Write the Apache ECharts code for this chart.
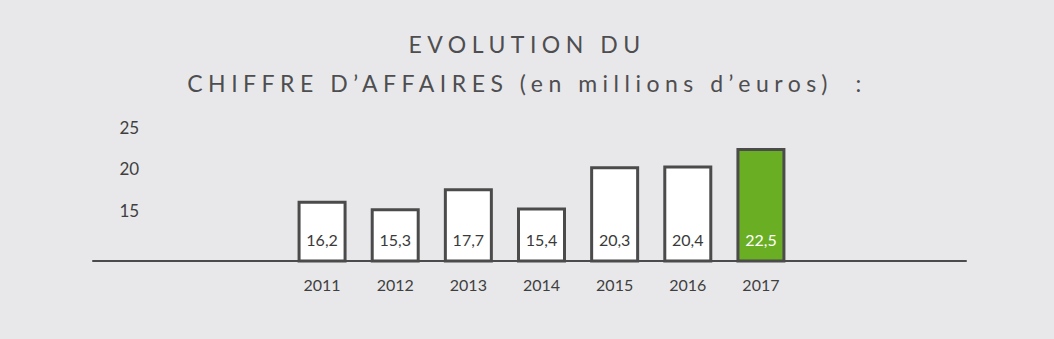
<!DOCTYPE html>
<html>
<head>
<meta charset="utf-8">
<script src="https://cdn.jsdelivr.net/npm/echarts@6/dist/echarts.min.js"></script>
<style>
  html, body { margin: 0; padding: 0; background: #e8e8ea; }
  #chart { width: 1054px; height: 339px; }
  /* wide tracking for the two heading lines */
  #chart text[fill="#4e4e50"] { letter-spacing: 5.5px; }
</style>
</head>
<body>
<div id="chart"></div>
<script>
// Chiffre d'affaires, en millions d'euros
const years = ['2011', '2012', '2013', '2014', '2015', '2016', '2017'];
const revenue = [16.2, 15.3, 17.7, 15.4, 20.3, 20.4, 22.5];
const yTicks = [15, 20, 25];
const titleLines = ['EVOLUTION DU', 'CHIFFRE D’AFFAIRES (en millions d’euros)  :'];

const INK = '#4b4b4b';
const TITLE_INK = '#4e4e50';
const GREEN = '#6aae24';
const FONT = 'Lato, "Open Sans", sans-serif';

const fmt = v => String(v).replace('.', ',');

const chart = echarts.init(document.getElementById('chart'), null, { renderer: 'svg' });

chart.setOption({
  backgroundColor: '#e8e8ea',
  animation: false,
  textStyle: { fontFamily: FONT },
  graphic: [
    {
      type: 'text', x: 527, y: 44,
      style: {
        text: titleLines[0], fill: TITLE_INK, font: '23px ' + FONT,
        textAlign: 'center', textVerticalAlign: 'middle'
      }
    },
    {
      type: 'text', x: 527, y: 83,
      style: {
        text: titleLines[1], fill: TITLE_INK, font: '23px ' + FONT,
        textAlign: 'center', textVerticalAlign: 'middle'
      }
    }
  ],
  grid: [
    { left: 285.5, right: 256.5, top: 127, bottom: 78 },
    { left: 93, right: 88, top: 127, bottom: 78 }
  ],
  xAxis: [
    {
      type: 'category', gridIndex: 0, data: years,
      axisLine: { show: false }, axisTick: { show: false },
      axisLabel: { color: '#3f3f3f', fontSize: 16, margin: 15, fontFamily: FONT }
    },
    {
      type: 'value', gridIndex: 1, min: 0, max: 1,
      axisLine: { show: true, onZero: false, lineStyle: { color: INK, width: 2 } },
      axisTick: { show: false }, axisLabel: { show: false }, splitLine: { show: false }
    }
  ],
  yAxis: [
    {
      type: 'value', gridIndex: 0, min: 9, max: 25,
      axisLine: { show: false }, axisTick: { show: false }, splitLine: { show: false },
      axisLabel: {
        customValues: yTicks, color: '#3f3f3f', fontSize: 17,
        align: 'left', margin: 166, fontFamily: FONT
      }
    },
    { type: 'value', gridIndex: 1, show: false, min: 0, max: 1 }
  ],
  series: [
    {
      type: 'bar', xAxisIndex: 0, yAxisIndex: 0, z: 3,
      data: revenue.map((v, i) => ({
        value: v,
        itemStyle: { color: i === revenue.length - 1 ? GREEN : '#ffffff' },
        label: { color: i === revenue.length - 1 ? '#ffffff' : '#3a3a3a' }
      })),
      barWidth: 49,
      itemStyle: { borderColor: INK, borderWidth: 3 },
      label: {
        show: true, position: 'insideBottom', distance: 15,
        fontSize: 16, fontFamily: FONT,
        formatter: p => fmt(p.value)
      }
    }
  ]
});
</script>
</body>
</html>
